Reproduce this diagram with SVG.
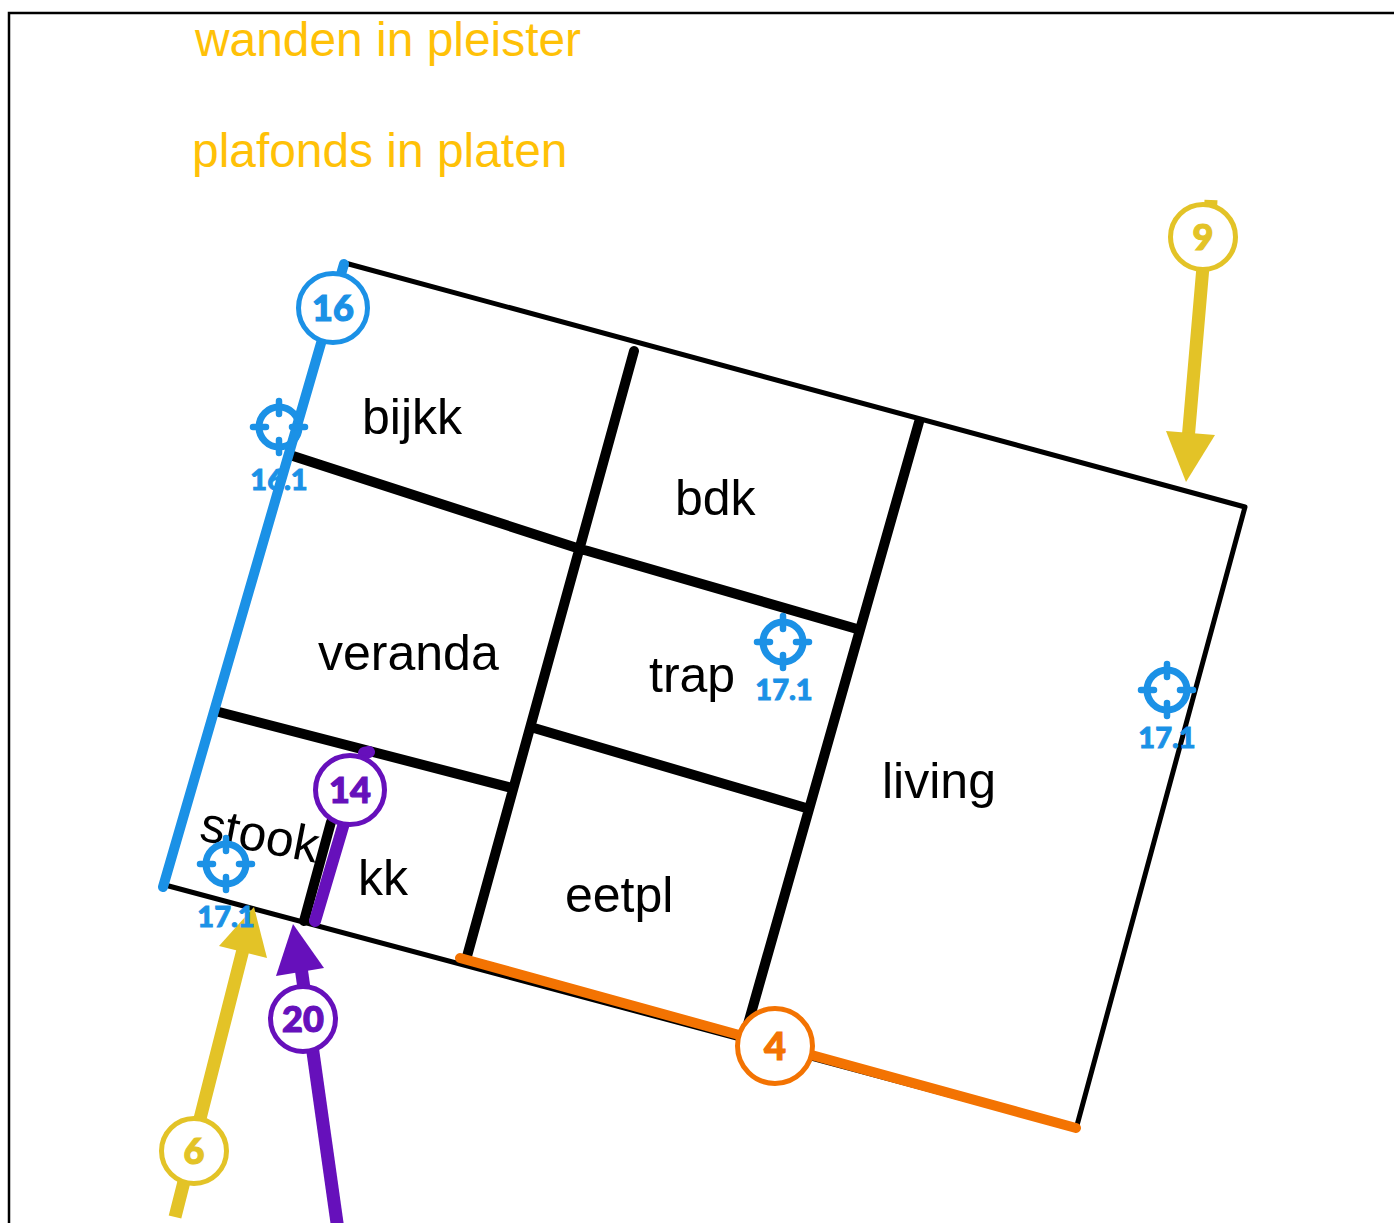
<svg xmlns="http://www.w3.org/2000/svg" width="1394" height="1223" viewBox="0 0 1394 1223">
<defs>
<style>
.outline{fill:none;stroke:#000;stroke-width:5;stroke-linejoin:round}
.wall{fill:none;stroke:#000;stroke-width:10;stroke-linecap:round}
.room{font-family:"Liberation Sans",Arial,sans-serif;font-size:50px;fill:#000}
.note{font-family:"Liberation Sans",Arial,sans-serif;font-size:47.9px;fill:#ffc107}
.ln{fill:none;stroke-width:10;stroke-linecap:round}
.thick{fill:none;stroke-width:13}
.badge{fill:#fff;stroke-width:5}
.bt{font-family:Lato,sans-serif;font-weight:900;text-anchor:middle;font-size:36px;stroke-width:1.2}
.blue{stroke:#1b91e6}.orange{stroke:#f37302}.yellow{stroke:#e3c327}.purple{stroke:#6610bb}
.tblue{fill:#1b91e6}.torange{fill:#f37302}.tyellow{fill:#e3c327}.tpurple{fill:#6610bb}
.ring{fill:none;stroke:#1b91e6;stroke-width:7}
.tick{fill:none;stroke:#1b91e6;stroke-width:6.5;stroke-linecap:round}
.tl{font-family:Lato,sans-serif;font-weight:900;font-size:29px;fill:#1b91e6;stroke:#1b91e6;stroke-width:.9;text-anchor:middle}
</style>
<g id="target"><circle r="20" class="ring"/><path class="tick" d="M-26 0H-13M13 0H26M0 -26V-13M0 13V26"/></g>
</defs>
<rect id="frame" x="9" y="13" width="1400" height="1230" fill="none" stroke="#000" stroke-width="2.5"/>
<g id="notes">
<text class="note" x="195" y="56">wanden in pleister</text>
<text class="note" x="192" y="167">plafonds in platen</text>
</g>
<g id="connectors">
<path class="outline" d="M345 263L1245 507L1076 1129L165 885Z"/>
<path class="wall" d="M634 351L466 960M919 422L748 1024M293 456L580 549L588 551L857 629M219 712L512 788M534 728L806 808M331 822L304 921"/>
<path class="ln blue" d="M344 264L163 887"/>
<path class="ln orange" d="M460 958L1076 1128"/>
<path class="ln purple" style="stroke-width:12" d="M364 753L369 752M347 813L315 921"/>
<path class="thick purple" d="M300 960L338 1230"/>
<path class="thick yellow" d="M1211 200L1210.5 210M1204 255L1188 440M248 930L175 1217"/>
<path d="M1186 482L1166 431L1215 435Z" class="tyellow"/>
<path d="M254 907L267 958L219 946Z" class="tyellow"/>
<path d="M293 924L324 968L276 976Z" class="tpurple"/>
</g>
<g id="rooms">
<text class="room" x="362" y="434">bijkk</text>
<text class="room" x="675" y="515">bdk</text>
<text class="room" x="318" y="670">veranda</text>
<text class="room" x="649" y="692">trap</text>
<text class="room" x="882" y="798">living</text>
<text class="room" x="358" y="895">kk</text>
<text class="room" x="565" y="912">eetpl</text>
<text class="room" transform="translate(198 840) rotate(11)">stook</text>
</g>
<g id="target-161"><use href="#target" x="279" y="427"/><text class="tl" x="279" y="490">16.1</text></g>
<g id="target-171a"><use href="#target" x="783" y="642"/><text class="tl" x="784" y="700">17.1</text></g>
<g id="target-171b"><use href="#target" x="1167" y="690"/><text class="tl" x="1167" y="748">17.1</text></g>
<g id="target-171c"><use href="#target" x="226" y="864"/><text class="tl" x="226" y="927">17.1</text></g>
<g id="badge-16"><circle class="badge blue" cx="333" cy="308" r="34.5"/><text class="bt tblue blue" x="333" y="321">16</text></g>
<g id="badge-14"><circle class="badge purple" cx="350" cy="790" r="34.5"/><text class="bt tpurple purple" x="350" y="803">14</text></g>
<g id="badge-20"><circle class="badge purple" cx="303" cy="1019" r="32.5"/><text class="bt tpurple purple" x="303" y="1032">20</text></g>
<g id="badge-6"><circle class="badge yellow" cx="194" cy="1151" r="32.5"/><text class="bt tyellow yellow" x="194" y="1164">6</text></g>
<g id="badge-9"><circle class="badge yellow" cx="1203" cy="237" r="32.5"/><text class="bt tyellow yellow" x="1203" y="250">9</text></g>
<g id="badge-4"><circle class="badge orange" cx="775" cy="1046" r="37.5"/><text class="bt torange orange" x="775" y="1060" style="font-size:38px">4</text></g>
</svg>
